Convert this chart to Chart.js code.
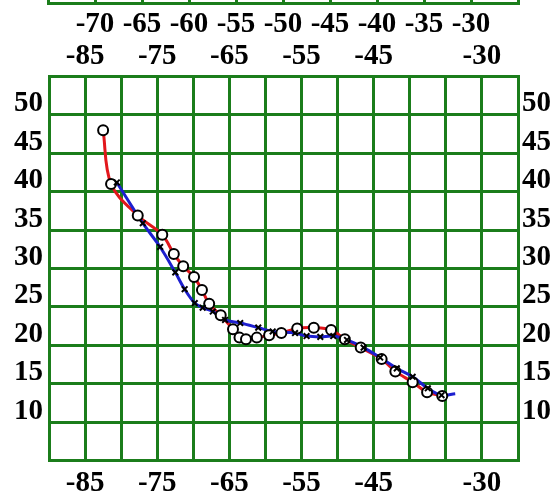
<!DOCTYPE html>
<html>
<head>
<meta charset="utf-8">
<script src="https://cdn.jsdelivr.net/npm/chart.js@4.4.1/dist/chart.umd.min.js"></script>
<style>
  html, body { margin: 0; padding: 0; background: #fff; overflow: hidden; }
  #wrap { position: relative; width: 555px; height: 496px; overflow: hidden; }
  #upper { position: absolute; left: 0; top: -40px; }
  #track { position: absolute; left: 0; top: 0; }
</style>
</head>
<body>
<div id="wrap">
  <canvas id="upper" width="555" height="80"></canvas>
  <canvas id="track" width="555" height="496"></canvas>
</div>
<script>
// 경도/위도 트랙 (빨강: 관측, 파랑: 예측)
const redLon  = [-82.5, -81.4, -77.7, -74.3, -72.7, -71.4, -69.9, -68.8, -67.8, -66.2, -64.5, -63.6, -62.7,
                 -61.2, -59.5, -57.8, -55.6, -53.3, -50.9, -49.0, -46.8, -43.9, -42.0, -39.6, -37.6, -35.5];
const redLat  = [48.0, 41.0, 36.9, 34.4, 31.9, 30.3, 28.9, 27.2, 25.4, 23.9, 22.1, 21.0, 20.8,
                 21.0, 21.3, 21.6, 22.2, 22.3, 22.0, 20.8, 19.7, 18.2, 16.6, 15.2, 13.9, 13.4];
const blueLon = [-80.6, -77.0, -74.6, -72.5, -71.2, -69.8, -68.7, -67.3, -65.6, -63.5, -61.0, -59.0,
                 -55.9, -54.3, -52.4, -50.6, -48.7, -46.4, -44.1, -41.8, -39.6, -37.5, -35.6, -33.7];
const blueLat = [41.2, 35.9, 32.8, 29.5, 27.3, 25.5, 24.9, 24.4, 23.3, 22.9, 22.3, 21.8,
                 21.6, 21.2, 21.1, 21.2, 20.7, 19.7, 18.4, 17.0, 15.9, 14.4, 13.5, 13.7];

// 축 눈금
const lonTicks   = [-85, -75, -65, -55, -45, -30];
const latTicks   = [10, 15, 20, 25, 30, 35, 40, 45, 50];
const upperTicks = [-70, -65, -60, -55, -50, -45, -40, -35, -30];

const GREEN = '#1b7d1b';
const RED = '#e2171c';
const BLUE = '#1d1fcf';
const tickFont = { family: "'Liberation Serif', 'Times New Roman', serif", size: 29, weight: 'bold', lineHeight: 1 };

const toPts = (xs, ys) => xs.map((x, i) => ({ x: x, y: ys[i] }));
const redPts = toPts(redLon, redLat);
const bluePts = toPts(blueLon, blueLat);

const showIf = list => v => list.includes(v) ? String(v) : '';

// 위쪽 잘린 격자
new Chart(document.getElementById('upper'), {
  type: 'scatter',
  data: { datasets: [{ data: [] }] },
  options: {
    responsive: false, animation: false,
    layout: { padding: { left: 48, right: 37, top: 0, bottom: 0 } },
    plugins: { legend: { display: false }, tooltip: { enabled: false } },
    scales: {
      x: {
        min: -75, max: -25,
        grid: { color: GREEN, lineWidth: 3, drawTicks: false },
        border: { color: GREEN, width: 3 },
        ticks: { stepSize: 5, autoSkip: false, maxRotation: 0, padding: 7.5, color: '#000',
                 font: tickFont, callback: showIf(upperTicks) },
        afterFit: a => { a.height = 37; }
      },
      y: { display: false, min: 0, max: 10 }
    }
  }
});

// 메인 트랙 차트
new Chart(document.getElementById('track'), {
  type: 'scatter',
  data: {
    datasets: [
      { data: redPts, showLine: true, borderColor: RED, borderWidth: 3, tension: 0.35, pointRadius: 0, order: 4 },
      { data: bluePts, showLine: true, borderColor: BLUE, borderWidth: 3, tension: 0.35, pointRadius: 0, order: 3 },
      { data: redPts, showLine: false, pointStyle: 'circle', pointRadius: 5, pointBorderWidth: 2,
        pointBorderColor: '#000', pointBackgroundColor: '#fff', order: 2 },
      { data: bluePts, showLine: false, pointStyle: 'crossRot', pointBorderWidth: 2, pointBorderColor: '#000',
        pointRadius: c => c.dataIndex === blueLon.length - 1 ? 0 : 4, order: 1 }
    ]
  },
  options: {
    responsive: false, animation: false,
    layout: { padding: { left: 0, right: 0, top: 40, bottom: 0 } },
    plugins: { legend: { display: false }, tooltip: { enabled: false } },
    scales: {
      x: {
        position: 'bottom', min: -90, max: -25,
        grid: { color: GREEN, lineWidth: 3, drawTicks: false },
        border: { color: GREEN, width: 3 },
        ticks: { stepSize: 5, autoSkip: false, maxRotation: 0, padding: 9, color: '#000',
                 font: tickFont, callback: showIf(lonTicks) },
        afterFit: a => { a.height = 35.5; }
      },
      x2: {
        position: 'top', min: -90, max: -25,
        grid: { drawOnChartArea: false, drawTicks: false },
        border: { color: GREEN, width: 3 },
        ticks: { stepSize: 5, autoSkip: false, maxRotation: 0, padding: 5, color: '#000',
                 font: tickFont, callback: showIf(lonTicks) },
        afterFit: a => { a.height = 36.5; }
      },
      y: {
        position: 'left', min: 5, max: 55,
        grid: { color: GREEN, lineWidth: 3, drawTicks: false },
        border: { color: GREEN, width: 3 },
        ticks: { stepSize: 5, autoSkip: false, padding: 6, labelOffset: -11, color: '#000',
                 font: tickFont, callback: showIf(latTicks) },
        afterFit: a => { a.width = 49; }
      },
      y2: {
        position: 'right', min: 5, max: 55,
        grid: { drawOnChartArea: false, drawTicks: false },
        border: { color: GREEN, width: 3 },
        ticks: { stepSize: 5, autoSkip: false, padding: 4, labelOffset: -11, color: '#000',
                 font: tickFont, callback: showIf(latTicks) },
        afterFit: a => { a.width = 37; }
      }
    }
  }
});
</script>
</body>
</html>
